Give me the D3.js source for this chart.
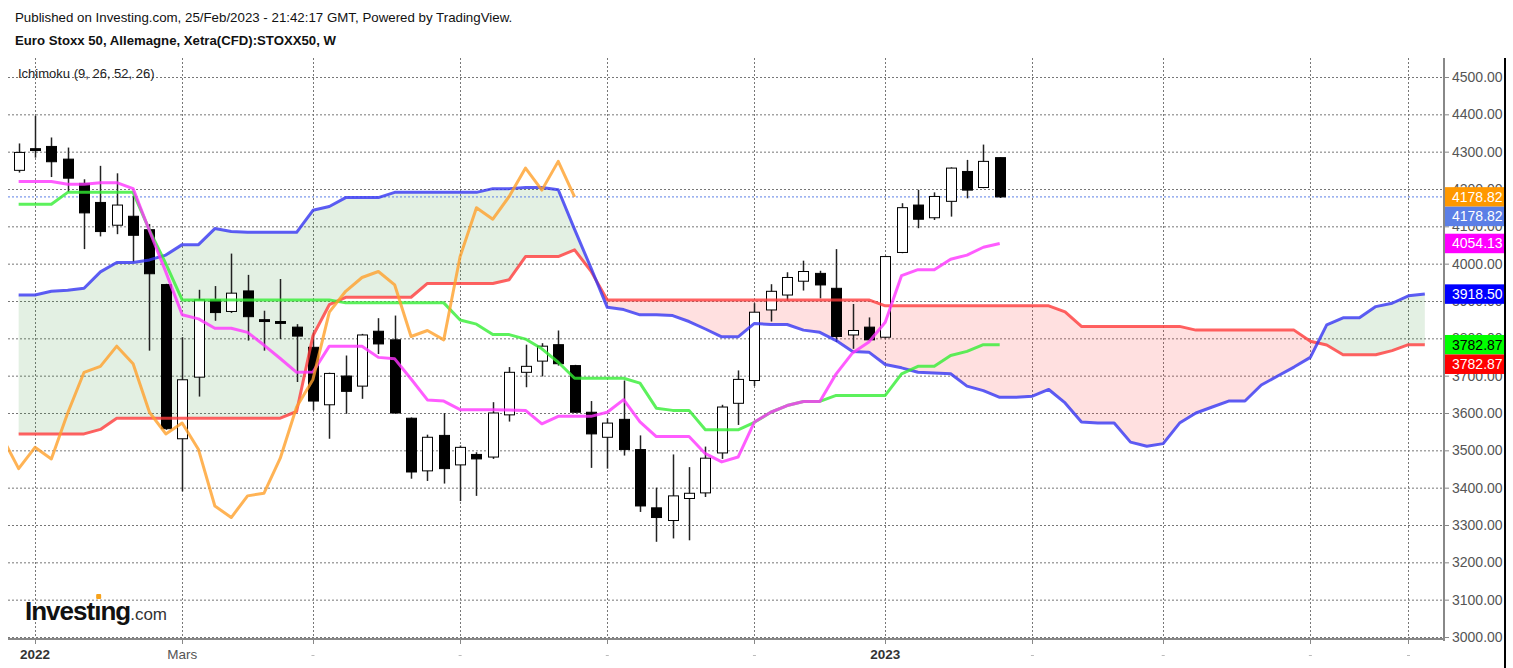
<!DOCTYPE html>
<html>
<head>
<meta charset="utf-8">
<title>Euro Stoxx 50 - Ichimoku</title>
<script src="https://d3js.org/d3.v7.min.js"></script>
<style>
	body { margin: 0; background: #fff; }
	text { font-family: "Liberation Sans", Arial, sans-serif; }
</style>
</head>
<body>
<div id="chart"></div>
<script>
	// weekly candles, index 0 = first week of 2022, first candle is week -1
	var candleStart = -1;
	var opens  = [4250, 4308, 4314, 4280, 4215, 4164, 4103, 4127, 4091, 3944,
	              3531, 3696, 3903, 3872, 3927, 3850, 3845, 3830, 3776, 3622,
	              3699, 3672, 3819, 3796, 3586, 3445, 3540, 3461, 3489, 3482,
	              3595, 3709, 3739, 3783, 3727, 3602, 3535, 3583, 3502, 3346,
	              3312, 3371, 3386, 3493, 3626, 3687, 3876, 3916, 3953, 3974,
	              3934, 3809, 3830, 3803, 4030, 4157, 4123, 4167, 4247, 4204, 4284];
	var highs  = [4322, 4396, 4338, 4311, 4226, 4262, 4242, 4182, 4106, 3946,
	              3803, 3930, 3940, 4027, 3970, 3874, 3959, 3838, 3816, 3708,
	              3754, 3812, 3854, 3861, 3588, 3542, 3600, 3513, 3495, 3629,
	              3723, 3783, 3787, 3821, 3729, 3632, 3586, 3687, 3540, 3400,
	              3489, 3455, 3510, 3622, 3714, 3894, 3945, 3977, 4008, 3981,
	              4039, 3892, 3856, 4021, 4162, 4198, 4191, 4258, 4278, 4319, 4285];
	var lows   = [4244, 4284, 4232, 4192, 4039, 4073, 4079, 4005, 3767, 3555,
	              3390, 3644, 3847, 3868, 3794, 3767, 3798, 3683, 3607, 3531,
	              3598, 3638, 3758, 3598, 3424, 3418, 3411, 3364, 3378, 3477,
	              3577, 3669, 3698, 3727, 3600, 3453, 3451, 3486, 3335, 3255,
	              3264, 3259, 3375, 3477, 3568, 3672, 3845, 3901, 3928, 3907,
	              3790, 3772, 3794, 3800, 4028, 4095, 4117, 4126, 4175, 4202, 4176];
	var closes = [4298, 4303, 4273, 4229, 4136, 4086, 4157, 4076, 3973, 3558,
	              3689, 3903, 3869, 3921, 3858, 3845, 3840, 3806, 3632, 3706,
	              3658, 3809, 3785, 3600, 3442, 3535, 3451, 3508, 3477, 3600,
	              3709, 3725, 3779, 3732, 3602, 3544, 3573, 3502, 3351, 3320,
	              3378, 3385, 3479, 3616, 3690, 3870, 3926, 3963, 3979, 3943,
	              3805, 3821, 3796, 4019, 4150, 4119, 4180, 4256, 4197, 4274, 4178.82];

	// Ichimoku (9, 26, 52, 26)
	var lineStart = -1;
	var tenkan = [4220, 4220, 4220, 4213, 4213, 4217, 4217, 4201, 4088, 3978,
	              3863, 3852, 3827, 3827, 3816, 3782, 3746, 3709, 3710, 3779,
	              3779, 3779, 3749, 3745, 3691, 3635, 3632, 3609, 3609, 3609,
	              3608, 3607, 3571, 3591, 3591, 3591, 3602, 3636, 3576, 3537,
	              3537, 3537, 3491, 3469, 3482, 3576, 3602, 3620, 3631, 3631,
	              3705, 3761, 3790, 3843, 3968, 3984, 3984, 4012, 4023, 4044, 4054.13];
	var kijun  = [4159, 4159, 4159, 4191, 4191, 4191, 4191, 4191, 4090, 4000,
	              3903, 3903, 3903, 3903, 3903, 3903, 3903, 3903, 3903, 3903,
	              3895, 3895, 3895, 3895, 3895, 3895, 3895, 3849, 3838, 3810,
	              3810, 3798, 3772, 3736, 3693, 3693, 3693, 3693, 3680, 3613,
	              3607, 3607, 3555, 3555, 3555, 3575, 3602, 3620, 3631, 3631,
	              3647, 3647, 3647, 3647, 3705, 3725, 3725, 3754, 3765, 3783, 3782.87];
	var cloudStart = -1;
	var senkouA = [3916, 3916, 3926, 3929, 3934, 3978, 4003, 4003, 4010, 4023,
	               4051, 4051, 4094, 4086, 4084, 4084, 4084, 4084, 4143, 4153,
	               4177, 4177, 4177, 4191, 4191, 4191, 4191, 4191, 4191, 4201,
	               4201, 4204, 4204, 4198, 4092, 3989, 3883, 3877, 3863, 3863,
	               3861, 3845, 3825, 3804, 3804, 3840, 3837, 3837, 3822, 3816,
	               3794, 3765, 3763, 3730, 3721, 3709, 3707, 3705, 3672, 3660,
	               3642, 3642, 3645, 3663, 3627, 3576, 3573, 3573, 3522, 3511,
	               3518, 3573, 3600, 3616, 3632, 3632, 3675, 3699, 3723, 3749,
	               3836, 3855, 3855, 3885, 3894, 3914, 3918.50];
	var senkouB = [3544, 3544, 3544, 3544, 3544, 3556, 3586, 3586, 3586, 3586,
	               3586, 3586, 3586, 3586, 3586, 3586, 3586, 3604, 3807, 3890,
	               3910, 3910, 3910, 3910, 3910, 3947, 3947, 3947, 3947, 3947,
	               3957, 4019, 4019, 4019, 4037, 3980, 3903, 3903, 3903, 3903,
	               3903, 3903, 3903, 3903, 3903, 3903, 3903, 3903, 3903, 3903,
	               3903, 3903, 3903, 3887, 3887, 3887, 3887, 3887, 3887, 3887,
	               3887, 3887, 3887, 3887, 3871, 3832, 3832, 3832, 3832, 3832,
	               3832, 3832, 3822, 3822, 3822, 3822, 3822, 3822, 3822, 3792,
	               3782, 3756, 3756, 3756, 3767, 3783, 3782.87];
	var chikouStart = -2;
	var chikou = [3535, 3451, 3508, 3477, 3600, 3709, 3725, 3779, 3732, 3602,
	              3544, 3573, 3502, 3351, 3320, 3378, 3385, 3479, 3616, 3690,
	              3870, 3926, 3963, 3979, 3943, 3805, 3821, 3796, 4019, 4150,
	              4119, 4180, 4256, 4197, 4274, 4178.82];

	// time axis
	var xTicks = [0, 9, 17, 26, 35, 44, 52, 61, 69, 78, 84];
	var xTickLabels = ["2022", "Mars", "", "", "", "", "2023", "", "", "", ""];
	var yTicks = [3000, 3100, 3200, 3300, 3400, 3500, 3600, 3700, 3800, 3900,
	              4000, 4100, 4200, 4300, 4400, 4500];

	var w = 1513;
	var h = 668;
	var plotLeft = 8, plotRight = 1444, plotTop = 58, plotBottom = 639;

	var svg = d3.select("#chart")
				.append("svg")
				.attr("width", w)
				.attr("height", h);
	var defs = svg.append("defs");

	var x = d3.scaleLinear().domain([0, 59]).range([35, 999.7]);
	var y = d3.scaleLinear().domain([3000, 4500]).range([637, 77]);

	defs.append("clipPath").attr("id", "plotClip")
		.append("rect")
		.attr("x", plotLeft).attr("y", plotTop)
		.attr("width", plotRight - plotLeft).attr("height", plotBottom - plotTop);

	// header texts
	svg.append("text").attr("x", 15).attr("y", 22)
		.style("font-size", "13.3px").style("fill", "#111")
		.text("Published on Investing.com, 25/Feb/2023 - 21:42:17 GMT, Powered by TradingView.");
	svg.append("text").attr("x", 15).attr("y", 45)
		.style("font-size", "13.2px").style("font-weight", "bold").style("fill", "#111")
		.text("Euro Stoxx 50, Allemagne, Xetra(CFD):STOXX50, W");

	// grid
	var grid = svg.append("g");
	grid.selectAll(".hgrid")
		.data(yTicks)
		.enter()
		.append("line")
		.attr("x1", plotLeft).attr("x2", plotRight)
		.attr("y1", function(d) { return y(d) + 0.5; })
		.attr("y2", function(d) { return y(d) + 0.5; })
		.style("stroke", "#777")
		.style("stroke-dasharray", "2,2");
	grid.selectAll(".vgrid")
		.data(xTicks)
		.enter()
		.append("line")
		.attr("x1", function(d) { return Math.round(x(d)) + 0.5; })
		.attr("x2", function(d) { return Math.round(x(d)) + 0.5; })
		.attr("y1", plotTop).attr("y2", plotBottom)
		.style("stroke", "#777")
		.style("stroke-dasharray", "2,2");

	var plot = svg.append("g").attr("clip-path", "url(#plotClip)");

	// cloud between senkou A and B, split where the two spans cross
	var runs = [];
	var run = null;
	for (var k = 0; k < senkouA.length; k++) {
		var i = cloudStart + k;
		var up = senkouA[k] >= senkouB[k];
		if (run && run.up !== up) {
			// crossing point between k-1 and k
			var d0 = senkouA[k - 1] - senkouB[k - 1];
			var d1 = senkouA[k] - senkouB[k];
			var t = d0 / (d0 - d1);
			var ci = i - 1 + t;
			var cv = senkouA[k - 1] + t * (senkouA[k] - senkouA[k - 1]);
			run.pts.push({ i: ci, a: cv, b: cv });
			runs.push(run);
			run = { up: up, pts: [{ i: ci, a: cv, b: cv }] };
		}
		if (!run) run = { up: up, pts: [] };
		run.pts.push({ i: i, a: senkouA[k], b: senkouB[k] });
	}
	runs.push(run);

	var between = d3.area()
		.x(function(d) { return x(d.i); })
		.y0(function(d) { return y(d.b); })
		.y1(function(d) { return y(d.a); });
	plot.selectAll(".kumo")
		.data(runs)
		.enter()
		.append("path")
		.attr("d", function(r) { return between(r.pts); })
		.style("fill", function(r) { return r.up ? "rgba(40,140,40,0.13)" : "rgba(255,60,60,0.16)"; });

	// last price line
	var lastClose = closes[closes.length - 1];
	plot.append("line")
		.attr("x1", plotLeft).attr("x2", plotRight)
		.attr("y1", y(lastClose)).attr("y2", y(lastClose))
		.style("stroke", "#5b7fe6")
		.style("stroke-dasharray", "2,2");

	// candles
	var candles = opens.map(function(o, k) {
		return { i: candleStart + k, o: o, h: highs[k], l: lows[k], c: closes[k] };
	});
	var bar = plot.selectAll(".candle")
		.data(candles)
		.enter()
		.append("g");
	bar.append("line")
		.attr("x1", function(d) { return Math.round(x(d.i)) + 0.5; })
		.attr("x2", function(d) { return Math.round(x(d.i)) + 0.5; })
		.attr("y1", function(d) { return y(d.h); })
		.attr("y2", function(d) { return y(d.l); })
		.style("stroke", "#222")
		.style("stroke-width", 1.5);
	bar.append("rect")
		.attr("x", function(d) { return Math.round(x(d.i)) - 4.5; })
		.attr("y", function(d) { return y(Math.max(d.o, d.c)); })
		.attr("width", 10)
		.attr("height", function(d) { return Math.max(1, Math.abs(y(d.o) - y(d.c))); })
		.style("fill", function(d) { return d.c < d.o ? "#000" : "#fff"; })
		.style("stroke", "#000")
		.style("stroke-width", 1);

	// ichimoku lines
	function drawLine(values, start, color) {
		var pts = values.map(function(v, k) { return [start + k, v]; });
		plot.append("path")
			.attr("d", d3.line()
				.x(function(d) { return x(d[0]); })
				.y(function(d) { return y(d[1]); })(pts))
			.style("fill", "none")
			.style("stroke", color)
			.style("stroke-width", 3)
			.style("stroke-opacity", 0.8)
			.style("stroke-linejoin", "round");
	}
	drawLine(senkouB, cloudStart, "#ff3b3b");
	drawLine(senkouA, cloudStart, "#3434f2");
	drawLine(kijun, lineStart, "#33ee33");
	drawLine(tenkan, lineStart, "#ff33ff");
	drawLine(chikou, chikouStart, "#ffa02a");

	// indicator name
	svg.append("text").attr("x", 18).attr("y", 78)
		.style("font-size", "13px").style("fill", "#222")
		.text("Ichimoku (9, 26, 52, 26)");

	// right price axis
	defs.append("clipPath").attr("id", "axisClip")
		.append("rect").attr("x", plotRight).attr("y", plotTop).attr("width", 70).attr("height", plotBottom - plotTop + 3);
	var yAxis = svg.append("g").attr("clip-path", "url(#axisClip)");
	yAxis.selectAll(".ytick")
		.data(yTicks)
		.enter()
		.append("line")
		.attr("x1", plotRight).attr("x2", plotRight + 5)
		.attr("y1", function(d) { return y(d) + 0.5; })
		.attr("y2", function(d) { return y(d) + 0.5; })
		.style("stroke", "#888");
	yAxis.selectAll(".ylabel")
		.data(yTicks)
		.enter()
		.append("text")
		.attr("x", plotRight + 8)
		.attr("y", function(d) { return y(d) + 5; })
		.style("font-size", "14px")
		.style("fill", "#555")
		.text(d3.format(".2f"));

	svg.append("line")
		.attr("x1", plotRight).attr("x2", plotRight)
		.attr("y1", plotTop).attr("y2", plotBottom + 2)
		.style("stroke", "#888").style("stroke-width", 2);
	svg.append("line")
		.attr("x1", plotLeft).attr("x2", plotRight)
		.attr("y1", plotBottom).attr("y2", plotBottom)
		.style("stroke", "#888").style("stroke-width", 2);
	svg.append("line")
		.attr("x1", 1505).attr("x2", 1505)
		.attr("y1", plotTop).attr("y2", h)
		.style("stroke", "#000").style("stroke-width", 2);

	// last value boxes on the price axis
	var boxes = [
		{ v: chikou[chikou.length - 1], fill: "#ff9800", ink: "#fff" },
		{ v: lastClose, fill: "#5b7fe6", ink: "#fff" },
		{ v: tenkan[tenkan.length - 1], fill: "#ff00ff", ink: "#fff" },
		{ v: senkouA[senkouA.length - 1], fill: "#0000ff", ink: "#fff" },
		{ v: kijun[kijun.length - 1], fill: "#00ff00", ink: "#000" },
		{ v: senkouB[senkouB.length - 1], fill: "#ff0000", ink: "#fff" }
	];
	var boxH = 19.5;
	var prevBottom = -1;
	boxes.forEach(function(b) {
		var top0 = y(b.v) - boxH / 2;
		if (top0 < prevBottom) top0 = prevBottom;
		prevBottom = top0 + boxH;
		svg.append("rect")
			.attr("x", plotRight + 1).attr("y", top0)
			.attr("width", 1504 - plotRight - 1).attr("height", boxH)
			.style("fill", b.fill);
		svg.append("text")
			.attr("x", plotRight + 8).attr("y", top0 + boxH / 2 + 5)
			.style("font-size", "14px")
			.style("fill", b.ink)
			.text(d3.format(".2f")(b.v));
	});

	// time axis
	var xAxis = svg.append("g");
	xAxis.selectAll(".xtick")
		.data(xTicks)
		.enter()
		.append("line")
		.attr("x1", function(d) { return Math.round(x(d)) + 0.5; })
		.attr("x2", function(d) { return Math.round(x(d)) + 0.5; })
		.attr("y1", plotBottom).attr("y2", plotBottom + 5)
		.style("stroke", "#888");
	xAxis.selectAll(".xlabel")
		.data(xTicks)
		.enter()
		.append("text")
		.attr("x", function(d) { return x(d); })
		.attr("y", 659)
		.attr("text-anchor", "middle")
		.style("font-size", "13.5px")
		.style("font-weight", function(d, k) { return /^\d+$/.test(xTickLabels[k]) ? "bold" : "normal"; })
		.style("fill", function(d, k) { return /^\d+$/.test(xTickLabels[k]) ? "#333" : "#555"; })
		.text(function(d, k) { return xTickLabels[k]; });
	xAxis.selectAll(".xdot")
		.data(xTicks.filter(function(d, k) { return xTickLabels[k] === ""; }))
		.enter()
		.append("rect")
		.attr("x", function(d) { return x(d) - 1.5; })
		.attr("y", 655)
		.attr("width", 3).attr("height", 1)
		.style("fill", "#bbb");

	// Investing.com logo
	var logo = svg.append("text").attr("x", 25).attr("y", 620);
	logo.append("tspan")
		.style("font-size", "26px").style("font-weight", "bold").style("fill", "#111")
		.style("letter-spacing", "-1px")
		.text("Invest");
	logo.append("tspan")
		.style("font-size", "26px").style("font-weight", "bold").style("fill", "#111")
		.style("letter-spacing", "-1px")
		.text("\u0131ng");
	logo.append("tspan")
		.style("font-size", "17px").style("fill", "#333")
		.text(".com");
	var node = logo.node();
	var dotX = 25 + node.getSubStringLength(0, 6) + 2;
	svg.append("rect")
		.attr("x", dotX).attr("y", 594)
		.attr("width", 5).attr("height", 5)
		.attr("rx", 1)
		.style("fill", "#f7a21b");
</script>
</body>
</html>
